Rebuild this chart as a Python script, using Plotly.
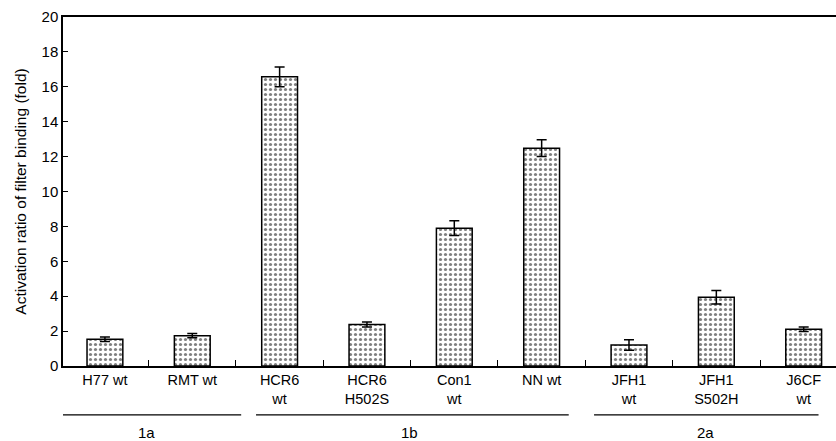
import plotly.graph_objects as go

categories = ["H77 wt", "RMT wt", "HCR6<br>wt", "HCR6<br>H502S", "Con1<br>wt",
              "NN wt", "JFH1<br>wt", "JFH1<br>S502H", "J6CF<br>wt"]
values = [1.53, 1.74, 16.57, 2.38, 7.9, 12.48, 1.2, 3.94, 2.1]
errors = [0.13, 0.12, 0.57, 0.14, 0.42, 0.48, 0.3, 0.38, 0.13]
group_names = ["1a", "1b", "2a"]
y_ticks = [0, 2, 4, 6, 8, 10, 12, 14, 16, 18, 20]

FONT = "Liberation Sans, Arial, sans-serif"

fig = go.Figure()
fig.add_trace(go.Bar(
    x=categories, y=values,
    marker=dict(color="white", line=dict(color="black", width=1.5),
                pattern=dict(shape=".", fgcolor="black", bgcolor="white",
                             size=5, solidity=0.33)),
    error_y=dict(type="data", array=errors, visible=True, color="black",
                 thickness=1.5, width=5),
    showlegend=False,
))

# group underline spans (x in category units) and label centres
group_lines = [(-0.55, 1.56), (1.73, 5.31), (5.60, 8.17)]
group_label_x = [0.48, 3.49, 6.88]
for (x0, x1), lx, name in zip(group_lines, group_label_x, group_names):
    fig.add_shape(type="line", xref="x", yref="paper", x0=x0, x1=x1,
                  y0=-0.140, y1=-0.140, line=dict(color="black", width=1.3))
    fig.add_annotation(x=lx, y=-0.19, xref="x", yref="paper", text=name,
                       showarrow=False, font=dict(size=15, color="black", family=FONT),
                       yanchor="middle", xanchor="center")

fig.update_layout(
    width=836, height=441,
    margin=dict(l=63, r=0, t=17, b=75),
    plot_bgcolor="white", paper_bgcolor="white",
    bargap=0.59,
    font=dict(family=FONT, size=14, color="black"),
    xaxis=dict(type="category", range=[-0.48, 8.37], tickson="boundaries",
               ticks="inside", ticklen=6, tickcolor="black", tickwidth=1.2,
               showline=True, linecolor="black", linewidth=1.5, mirror=True,
               showgrid=False, tickfont=dict(size=14.5)),
    yaxis=dict(range=[0, 20], tickvals=y_ticks, ticks="inside", ticklen=5,
               tickcolor="black", tickwidth=1.2, showline=True, linecolor="black",
               linewidth=1.5, showgrid=False, zeroline=False,
               tickfont=dict(size=15),
               title=dict(text="Activation ratio of filter binding (fold)",
                          font=dict(size=15.5), standoff=11)),
)

fig.write_html("out.html")
